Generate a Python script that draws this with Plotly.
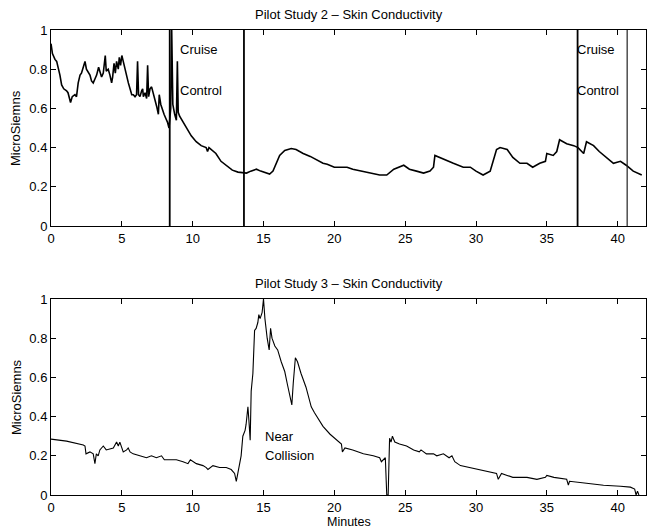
import plotly.graph_objects as go

# ---- Pilot Study 2 (top) ----
top_x = [0, 0.1, 0.28, 0.4, 0.63, 0.75, 0.9, 1.1, 1.2, 1.38, 1.5, 1.69, 1.8, 1.92, 2.05, 2.15,
         2.32, 2.4, 2.5, 2.63, 2.75, 2.86, 2.98, 3.1, 3.22, 3.36, 3.45, 3.57, 3.69, 3.83, 3.9,
         4.04, 4.16, 4.28, 4.35, 4.45, 4.54, 4.63, 4.75, 4.82, 4.91, 5.0, 5.1, 5.22, 5.34, 5.46,
         5.58, 5.7, 5.81, 5.93, 6.04, 6.11, 6.18, 6.28, 6.4, 6.47, 6.52, 6.64, 6.75, 6.82, 6.89,
         6.99, 7.1, 7.22, 7.34, 7.46, 7.58, 7.64, 7.75, 7.86, 7.98, 8.1, 8.22, 8.33, 8.45, 8.52,
         8.6, 8.73, 8.85, 8.92, 8.98, 9.08, 9.31, 9.55, 9.9, 10.25, 10.6, 10.95, 11.05, 11.15,
         11.3, 11.64, 12.0, 12.35, 12.8, 13.2, 13.55, 13.8, 14.1, 14.5, 14.8, 15.2, 15.43, 15.67,
         15.9, 16.14, 16.5, 16.96, 17.3, 17.8, 18.3, 18.7, 19.2, 19.5, 20.0, 20.4, 20.9, 21.3,
         22.0, 22.75, 23.2, 23.7, 24.2, 24.9, 25.3, 25.8, 26.3, 26.75, 27.0, 27.1, 27.7, 28.4,
         29.1, 29.6, 30.0, 30.5, 31.0, 31.2, 31.45, 31.7, 32.2, 32.6, 33.1, 33.6, 34.0, 34.5,
         34.9, 35.0, 35.45, 35.7, 35.9, 36.4, 36.9, 37.2, 37.6, 37.8, 38.3, 38.7, 39.2, 39.7,
         40.2, 40.6, 41.1, 41.7]
top_y = [0.93, 0.88, 0.85, 0.84, 0.77, 0.72, 0.70, 0.69, 0.68, 0.63, 0.66, 0.67, 0.66, 0.73, 0.77, 0.78,
         0.82, 0.84, 0.80, 0.78, 0.77, 0.74, 0.73, 0.75, 0.77, 0.81, 0.79, 0.76, 0.78, 0.87, 0.79,
         0.80, 0.77, 0.73, 0.76, 0.83, 0.78, 0.84, 0.80, 0.86, 0.82, 0.87, 0.84, 0.80, 0.77, 0.73,
         0.70, 0.67, 0.67, 0.66, 0.67, 0.84, 0.67, 0.66, 0.69, 0.70, 0.66, 0.68, 0.65, 0.82, 0.66,
         0.70, 0.71, 0.68, 0.65, 0.61, 0.57, 0.67, 0.62, 0.59, 0.57, 0.55, 0.53, 0.50, 0.60, 1.00,
         0.62, 0.57, 0.54, 0.84, 0.58, 0.56, 0.53, 0.50, 0.46, 0.43, 0.41, 0.40, 0.38, 0.40,
         0.39, 0.37, 0.33, 0.31, 0.285, 0.275, 0.27, 0.27, 0.28, 0.29, 0.28, 0.27, 0.265, 0.28,
         0.32, 0.36, 0.385, 0.395, 0.39, 0.37, 0.355, 0.34, 0.32, 0.315, 0.30, 0.30, 0.30, 0.29,
         0.28, 0.27, 0.26, 0.26, 0.29, 0.31, 0.29, 0.28, 0.27, 0.28, 0.30, 0.36, 0.34, 0.32,
         0.30, 0.30, 0.28, 0.26, 0.28, 0.33, 0.39, 0.40, 0.39, 0.35, 0.32, 0.32, 0.30, 0.32,
         0.33, 0.37, 0.36, 0.38, 0.44, 0.42, 0.41, 0.40, 0.37, 0.43, 0.41, 0.38, 0.35, 0.32,
         0.33, 0.31, 0.28, 0.26]

# event markers (cruise control on/off), minutes
event_x = [8.38, 13.62, 37.17, 40.67]

# ---- Pilot Study 3 (bottom) ----
bot_x = [0, 1.1, 2.28, 2.4, 2.47, 2.75, 2.98, 3.1, 3.2, 3.33, 3.45, 3.57, 3.69, 3.9, 4.4, 4.63,
         4.75, 4.86, 4.98, 5.1, 5.34, 5.45, 5.58, 5.8, 6.27, 6.74, 7.09, 7.44, 7.8, 8.0, 8.38,
         8.85, 9.32, 9.67, 9.84, 10.26, 10.73, 10.96, 11.08, 11.43, 11.9, 12.37, 12.72, 12.96,
         13.08, 13.2, 13.3, 13.42, 13.54, 13.7, 13.77, 13.9, 13.97, 14.06, 14.13, 14.25, 14.37,
         14.48, 14.6, 14.67, 14.76, 14.9, 15.0, 15.1, 15.26, 15.4, 15.5, 15.6, 15.8, 16.0, 16.25,
         16.5, 16.7, 17.0, 17.1, 17.25, 17.4, 17.65, 18.0, 18.37, 18.6, 18.95, 19.2, 19.7, 20.2,
         20.5, 20.57, 20.75, 21.3, 22.05, 22.75, 23.2, 23.32, 23.6, 23.7, 23.8, 23.9, 24.0, 24.1,
         24.27, 24.6, 25.1, 25.6, 26.0, 26.12, 26.5, 27.0, 27.23, 27.7, 28.1, 28.3, 28.5, 28.9,
         29.6, 30.3, 31.0, 31.45, 31.57, 31.8, 32.2, 32.6, 33.6, 34.3, 34.9, 35.0, 35.5, 36.4,
         36.52, 36.6, 37.8, 39.0, 40.2, 40.9, 41.2, 41.3, 41.4, 41.5]
bot_y = [0.285, 0.275, 0.255, 0.25, 0.21, 0.22, 0.21, 0.16, 0.21, 0.20, 0.23, 0.24, 0.25, 0.23, 0.24, 0.27,
         0.25, 0.27, 0.24, 0.22, 0.23, 0.24, 0.22, 0.21, 0.20, 0.19, 0.20, 0.19, 0.20, 0.18, 0.18,
         0.18, 0.17, 0.16, 0.18, 0.16, 0.15, 0.14, 0.13, 0.15, 0.14, 0.14, 0.13, 0.11,
         0.07, 0.12, 0.16, 0.20, 0.30, 0.33, 0.36, 0.45, 0.38, 0.28, 0.53, 0.62, 0.84,
         0.85, 0.88, 0.92, 0.90, 0.93, 1.00, 0.90, 0.80, 0.74, 0.85, 0.80, 0.76, 0.74, 0.68,
         0.63, 0.56, 0.46, 0.57, 0.70, 0.68, 0.62, 0.55, 0.45, 0.42, 0.38, 0.35, 0.31, 0.28,
         0.26, 0.22, 0.24, 0.23, 0.21, 0.20, 0.19, 0.17, 0.19, 0.0, 0.0, 0.29, 0.27, 0.30,
         0.27, 0.26, 0.25, 0.23, 0.22, 0.23, 0.21, 0.21, 0.20, 0.21, 0.19, 0.20, 0.17, 0.15,
         0.14, 0.13, 0.12, 0.11, 0.08, 0.11, 0.10, 0.09, 0.09, 0.08, 0.09, 0.10, 0.09, 0.08,
         0.05, 0.07, 0.06, 0.05, 0.045, 0.04, 0.03, 0.0, 0.02, 0.0]

x_ticks = [0, 5, 10, 15, 20, 25, 30, 35, 40]
y_ticks = [0, 0.2, 0.4, 0.6, 0.8, 1]
y_ticklabels = ["0", "0.2", "0.4", "0.6", "0.8", "1"]

FONT = "Liberation Sans, Arial, Helvetica, sans-serif"

# build vertical event line path
ev_x, ev_y = [], []
for e in event_x[:3]:
    ev_x += [e, e, None]
    ev_y += [0, 1, None]

fig = go.Figure()
fig.add_trace(go.Scatter(x=top_x, y=top_y, mode="lines", line=dict(color="black", width=1.6),
                         xaxis="x", yaxis="y", showlegend=False, hoverinfo="skip"))
fig.add_trace(go.Scatter(x=ev_x, y=ev_y, mode="lines", line=dict(color="black", width=1.8),
                         xaxis="x", yaxis="y", showlegend=False, hoverinfo="skip"))
fig.add_trace(go.Scatter(x=[event_x[3], event_x[3]], y=[0, 1], mode="lines",
                         line=dict(color="#222222", width=1.2),
                         xaxis="x", yaxis="y", showlegend=False, hoverinfo="skip"))
fig.add_trace(go.Scatter(x=bot_x, y=bot_y, mode="lines", line=dict(color="black", width=1.1),
                         xaxis="x2", yaxis="y2", showlegend=False, hoverinfo="skip"))

axis_common = dict(
    showgrid=False, zeroline=False, showline=True, linecolor="black", linewidth=1,
    mirror="ticks", ticks="inside", ticklen=5, tickcolor="black", tickwidth=1,
    tickfont=dict(family=FONT, size=13, color="black"),
)

fig.update_layout(
    width=647, height=529,
    margin=dict(l=51, r=1, t=30, b=34),
    paper_bgcolor="white", plot_bgcolor="white",
    font=dict(family=FONT, size=13, color="black"),
    xaxis=dict(domain=[0, 1], range=[0, 42], tickvals=x_ticks, anchor="y", **axis_common),
    yaxis=dict(domain=[0.5785, 1.0], range=[0, 1], tickvals=y_ticks, ticktext=y_ticklabels,
               anchor="x", **axis_common),
    xaxis2=dict(domain=[0, 1], range=[0, 42], tickvals=x_ticks, anchor="y2", **axis_common),
    yaxis2=dict(domain=[0, 0.4215], range=[0, 1], tickvals=y_ticks, ticktext=y_ticklabels,
                anchor="x2", **axis_common),
)

ann = []
def txt(text, x, y, xref, yref, **kw):
    d = dict(text=text, x=x, y=y, xref=xref, yref=yref, showarrow=False,
             font=dict(family=FONT, size=13, color="black"))
    d.update(kw)
    ann.append(d)

# subplot titles
txt("Pilot Study 2 \u2013 Skin Conductivity", 0.5, 1.0, "paper", "paper",
    xanchor="center", yanchor="bottom", yshift=6)
txt("Pilot Study 3 \u2013 Skin Conductivity", 0.5, 0.4215, "paper", "paper",
    xanchor="center", yanchor="bottom", yshift=6)
# axis titles
txt("MicroSiemns", 0, 0.5, "paper", "y domain", xanchor="center", yanchor="middle",
    textangle=-90, xshift=-35)
txt("MicroSiemns", 0, 0.5, "paper", "y2 domain", xanchor="center", yanchor="middle",
    textangle=-90, xshift=-35)
txt("Minutes", 0.5, 0, "paper", "paper", xanchor="center", yanchor="top", yshift=-18,
    font=dict(family=FONT, size=12.5, color="black"))
# event labels
txt("Cruise", 8.96, 0.90, "x", "y", xanchor="left", yanchor="middle")
txt("Control", 8.96, 0.69, "x", "y", xanchor="left", yanchor="middle")
txt("Cruise", 36.98, 0.90, "x", "y", xanchor="left", yanchor="middle")
txt("Control", 36.98, 0.69, "x", "y", xanchor="left", yanchor="middle")
txt("Near", 14.96, 0.297, "x2", "y2", xanchor="left", yanchor="middle")
txt("Collision", 14.96, 0.199, "x2", "y2", xanchor="left", yanchor="middle")
fig.update_layout(annotations=ann)

fig.write_html("out.html")
